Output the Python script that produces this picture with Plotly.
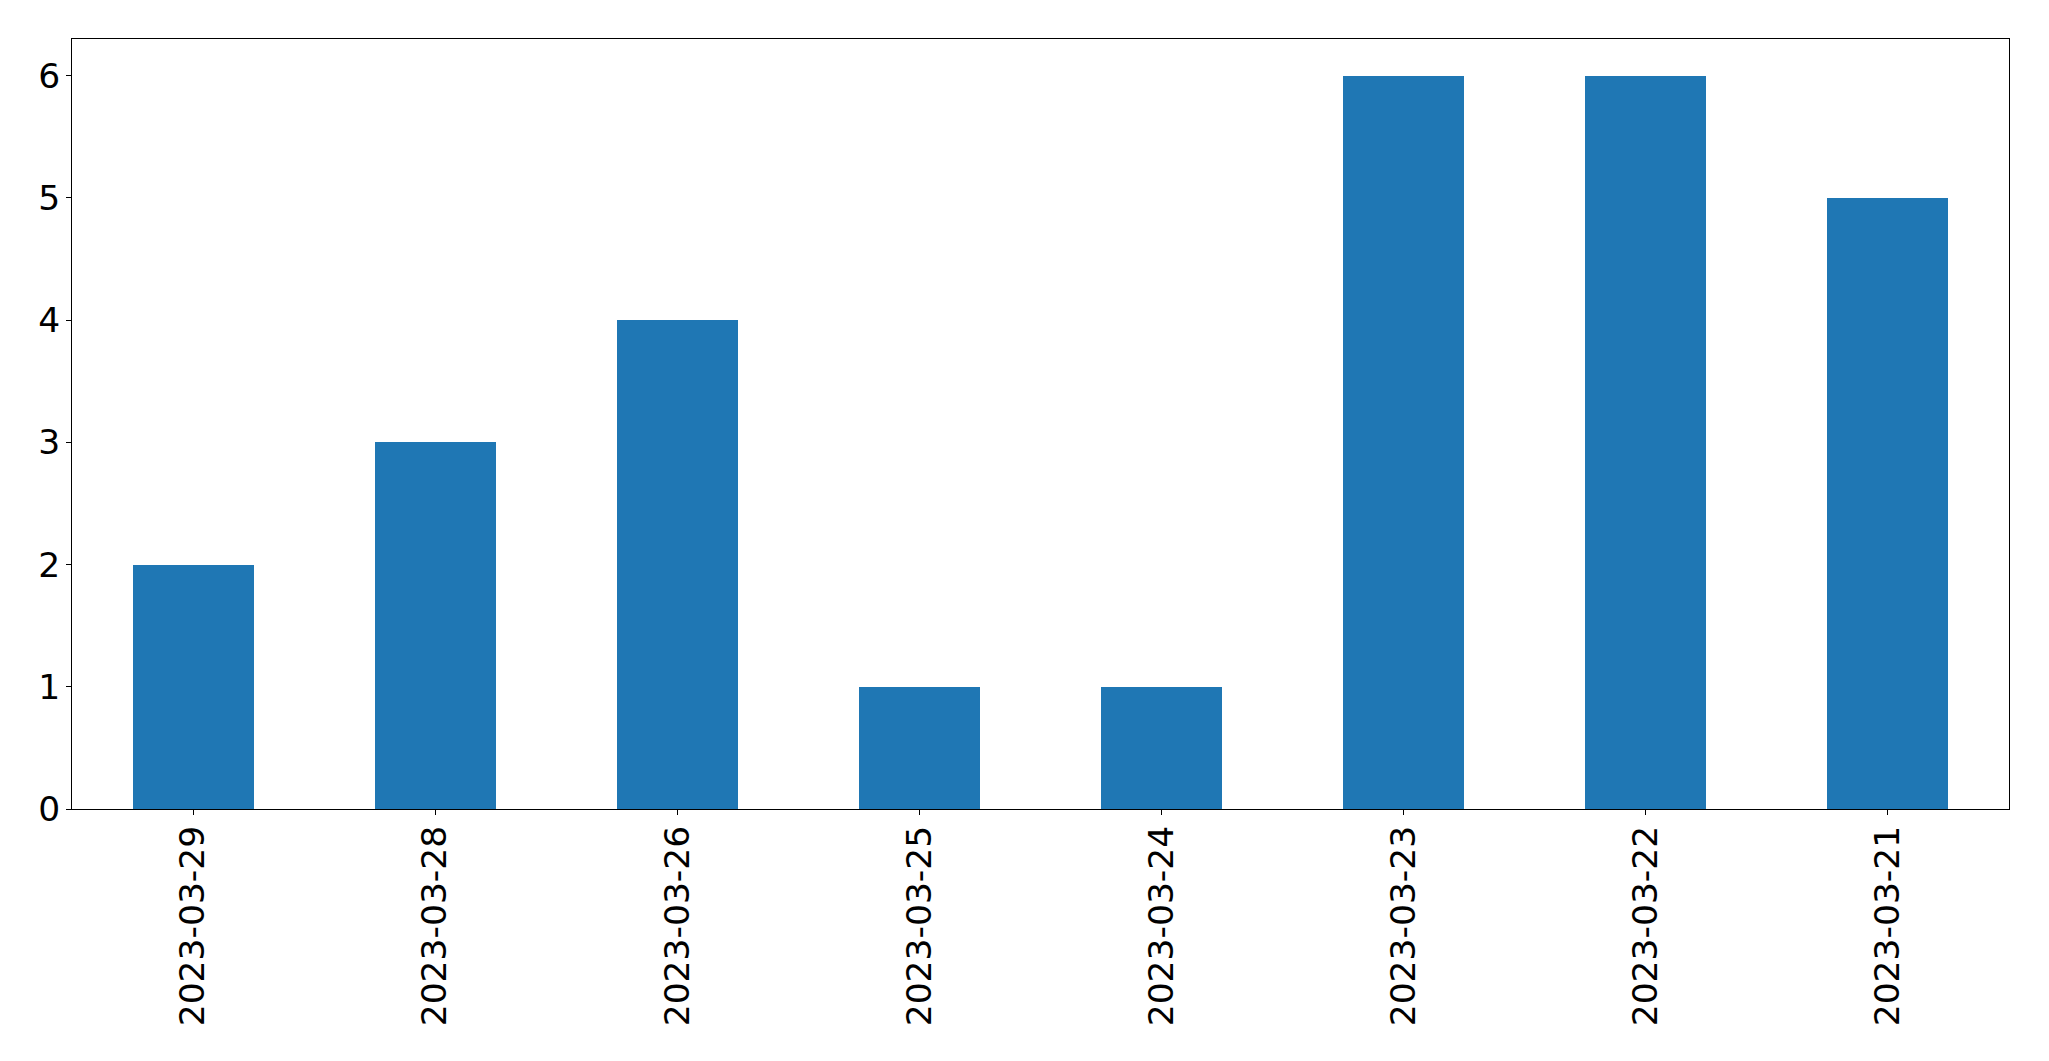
import plotly.graph_objects as go

dates = ["2023-03-29", "2023-03-28", "2023-03-26", "2023-03-25",
         "2023-03-24", "2023-03-23", "2023-03-22", "2023-03-21"]
counts = [2, 3, 4, 1, 1, 6, 6, 5]
y_ticks = [0, 1, 2, 3, 4, 5, 6]

fig = go.Figure(go.Bar(x=dates, y=counts, marker_color="#1f77b4",
                       marker_line_width=0, width=0.5))

fig.update_layout(
    width=2041, height=1053,
    margin=dict(l=64, r=40, t=31, b=252, autoexpand=False),
    plot_bgcolor="white", paper_bgcolor="white",
    font=dict(family="DejaVu Sans", size=34.5, color="black"),
    showlegend=False, bargap=0,
)
fig.update_xaxes(type="category", range=[-0.5, 7.5], tickangle=-90,
                 showline=True, mirror=True, linecolor="black", linewidth=1,
                 ticks="outside", ticklen=5, tickcolor="black", tickwidth=1,
                 showgrid=False, zeroline=False, ticklabelstandoff=-3)
fig.update_yaxes(range=[0, 6.3], tickvals=y_ticks,
                 showline=True, mirror=True, linecolor="black", linewidth=1,
                 ticks="outside", ticklen=5, tickcolor="black", tickwidth=1,
                 showgrid=False, zeroline=False, ticklabelstandoff=-1)

fig.write_html("out.html")
